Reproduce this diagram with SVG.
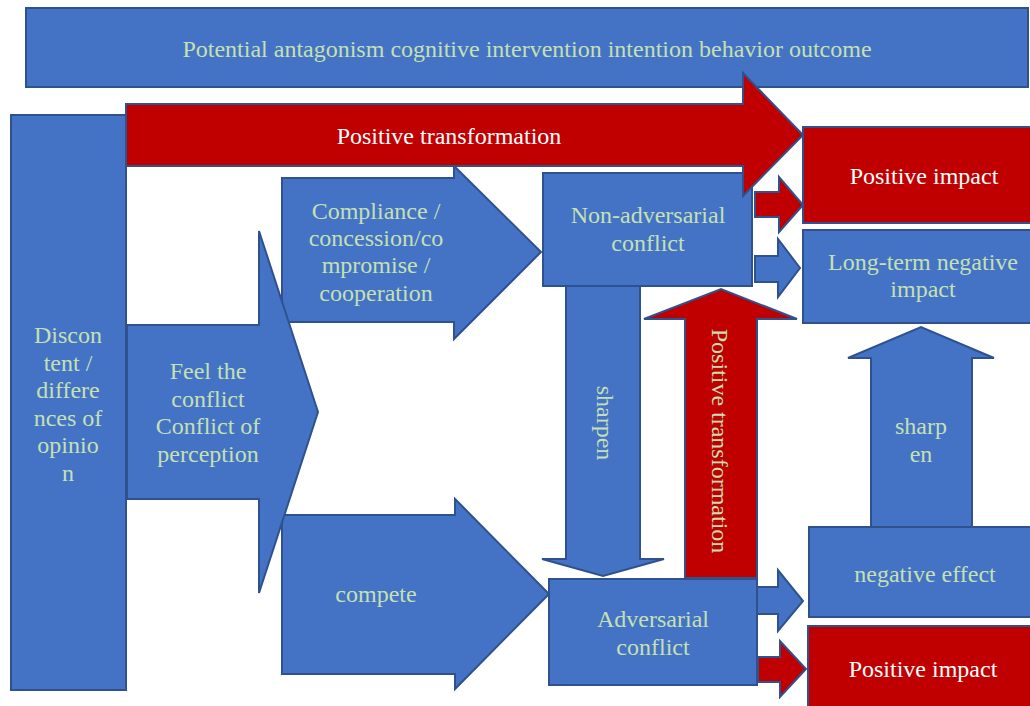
<svg xmlns="http://www.w3.org/2000/svg" width="1030" height="706" viewBox="0 0 1030 706">
<style>
.b{fill:#4472C4;stroke:#2F528F;stroke-width:2;stroke-linejoin:miter}
.r{fill:#C00000;stroke:#2F528F;stroke-width:2;stroke-linejoin:miter}
text{font-family:"Liberation Serif","Times New Roman",serif;font-size:24px;text-anchor:middle}
.g{fill:#C5E0B4}
.w{fill:#FFFFFF}
</style>
<rect width="1030" height="706" fill="#FFFFFF"/>
<g id="header">
<rect class="b" x="26" y="8" width="1002" height="79"/>
<text class="g" x="527" y="57">Potential antagonism cognitive intervention intention behavior outcome</text>
</g>
<g id="discontent">
<rect class="b" x="11" y="115" width="115" height="575"/>
<text class="g" x="68" y="343">Discon</text>
<text class="g" x="68" y="370.5">tent /</text>
<text class="g" x="68" y="398">differe</text>
<text class="g" x="68" y="425.5">nces of</text>
<text class="g" x="68" y="453">opinio</text>
<text class="g" x="68" y="480.5">n</text>
</g>
<g id="non-adversarial">
<rect class="b" x="543" y="173" width="209" height="113"/>
<text class="g" x="648" y="223">Non-adversarial</text>
<text class="g" x="648" y="251">conflict</text>
</g>
<g id="adversarial">
<rect class="b" x="549" y="579" width="208" height="106"/>
<text class="g" x="653" y="627">Adversarial</text>
<text class="g" x="653" y="655">conflict</text>
</g>
<g id="positive-impact-top">
<rect class="r" x="803" y="127" width="240" height="96"/>
<text class="w" x="924" y="184">Positive impact</text>
</g>
<g id="long-term-negative">
<rect class="b" x="803" y="230" width="240" height="93"/>
<text class="g" x="923" y="270">Long-term negative</text>
<text class="g" x="923" y="297">impact</text>
</g>
<g id="negative-effect">
<rect class="b" x="809" y="527" width="240" height="90"/>
<text class="g" x="925" y="582">negative effect</text>
</g>
<g id="positive-impact-bottom">
<rect class="r" x="808" y="626" width="240" height="100"/>
<text class="w" x="923" y="677">Positive impact</text>
</g>
<g id="connectors">
<g id="compliance">
<polygon class="b" points="282,178 454,178 454,166 541,252 454,339 454,322 282,322"/>
<text class="g" x="376" y="218.5">Compliance /</text>
<text class="g" x="376" y="246">concession/co</text>
<text class="g" x="376" y="273">mpromise /</text>
<text class="g" x="376" y="300.5">cooperation</text>
</g>
<g id="compete">
<polygon class="b" points="282,515 455,515 455,499 549,594 455,689 455,674 282,674"/>
<text class="g" x="376" y="602">compete</text>
</g>
<g id="feel-conflict">
<polygon class="b" points="127,325 259,325 259,231 318,412 259,593 259,499 127,499"/>
<text class="g" x="208" y="379">Feel the</text>
<text class="g" x="208" y="406.5">conflict</text>
<text class="g" x="208" y="434">Conflict of</text>
<text class="g" x="208" y="461.5">perception</text>
</g>
<g id="sharpen-down">
<polygon class="b" points="566,286 640,286 640,559 664,559 603,576 542,559 566,559"/>
<text class="g" transform="translate(597,423) rotate(90)" x="0" y="0">sharpen</text>
</g>
<g id="positive-transformation-up">
<polygon class="r" points="685,578 757,578 757,319 797,319 721,289 644,319 685,319"/>
<text class="g" transform="translate(712,441) rotate(90)" x="0" y="0">Positive transformation</text>
</g>
<g id="sharpen-up">
<polygon class="b" points="871,527 972,527 972,358 994,358 921,327 848,358 871,358"/>
<text class="g" x="921" y="434">sharp</text>
<text class="g" x="921" y="462">en</text>
</g>
<g id="positive-transformation-main">
<polygon class="r" points="126,104 743,104 743,73 803,135 743,196 743,166 126,166"/>
<text class="w" x="449" y="144">Positive transformation</text>
</g>
<polygon class="r" points="755,192 779,192 779,177 803,205 779,232 779,217 755,217"/>
<polygon class="b" points="755,256 778,256 778,239 800,268 778,297 778,282 755,282"/>
<polygon class="b" points="757,587 778,587 778,570 803,601 778,631 778,614 757,614"/>
<polygon class="r" points="758,657 780,657 780,641 806,669 780,697 780,682 758,682"/>
</g>
</svg>
